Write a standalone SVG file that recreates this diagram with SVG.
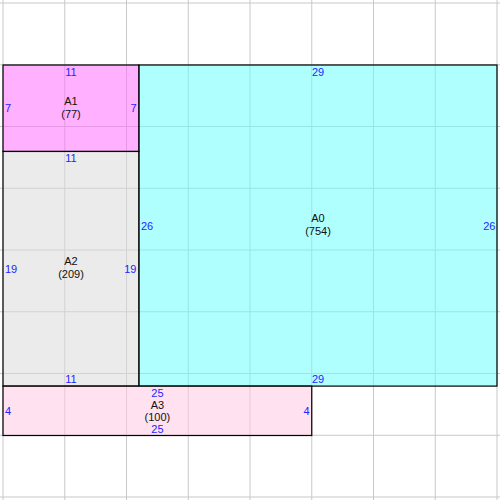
<svg xmlns="http://www.w3.org/2000/svg" width="500" height="500" viewBox="0 0 500 500">
<style>
.r{stroke:#000;stroke-width:1.2;fill-opacity:0.55}
.g line{stroke:#c8c8c8;stroke-width:1}
text{font-family:"Liberation Sans",Arial,sans-serif;font-size:11px}
.n{fill:#2424ff}
.c{text-anchor:middle}
.e{text-anchor:end}
.t{fill:#111}
</style>
<rect width="500" height="500" fill="#fff"/>
<g class="g" id="grid">
<line x1="3" y1="0" x2="3" y2="500"/>
<line x1="64.75" y1="0" x2="64.75" y2="500"/>
<line x1="126.5" y1="0" x2="126.5" y2="500"/>
<line x1="188.25" y1="0" x2="188.25" y2="500"/>
<line x1="250" y1="0" x2="250" y2="500"/>
<line x1="311.75" y1="0" x2="311.75" y2="500"/>
<line x1="373.5" y1="0" x2="373.5" y2="500"/>
<line x1="435.25" y1="0" x2="435.25" y2="500"/>
<line x1="497" y1="0" x2="497" y2="500"/>
<line x1="0" y1="3" x2="500" y2="3"/>
<line x1="0" y1="64.75" x2="500" y2="64.75"/>
<line x1="0" y1="126.5" x2="500" y2="126.5"/>
<line x1="0" y1="188.25" x2="500" y2="188.25"/>
<line x1="0" y1="250" x2="500" y2="250"/>
<line x1="0" y1="311.75" x2="500" y2="311.75"/>
<line x1="0" y1="373.5" x2="500" y2="373.5"/>
<line x1="0" y1="435.25" x2="500" y2="435.25"/>
<line x1="0" y1="497" x2="500" y2="497"/>
</g>
<g id="A0">
<rect class="r" x="138.85" y="65" width="358.15" height="321.1" fill="#6fffff"/>
</g>
<g id="A1">
<rect class="r" x="3" y="65" width="135.85" height="86.45" fill="#ff6fff"/>
</g>
<g id="A2">
<rect class="r" x="3" y="151.45" width="135.85" height="234.65" fill="#dbdbdb"/>
</g>
<g id="A3">
<rect class="r" x="3" y="386.1" width="308.75" height="49.4" fill="#ffc8e2"/>
</g>
<g id="labels-A0">
<text class="n c" x="318" y="76">29</text>
<text class="n c" x="318" y="383">29</text>
<text class="n" x="141" y="230">26</text>
<text class="n e" x="495.5" y="230">26</text>
<text class="t c" x="318" y="221.5">A0</text>
<text class="t c" x="318" y="234.5">(754)</text>
</g>
<g id="labels-A1">
<text class="n c" x="71" y="76">11</text>
<text class="n c" x="71" y="162">11</text>
<text class="n" x="5" y="112">7</text>
<text class="n e" x="136.5" y="112">7</text>
<text class="t c" x="71" y="104.5">A1</text>
<text class="t c" x="71" y="117.5">(77)</text>
</g>
<g id="labels-A2">
<text class="n c" x="71" y="383">11</text>
<text class="n" x="5" y="273">19</text>
<text class="n e" x="136.5" y="273">19</text>
<text class="t c" x="71" y="264.5">A2</text>
<text class="t c" x="71" y="277.5">(209)</text>
</g>
<g id="labels-A3">
<text class="n c" x="157.4" y="397">25</text>
<text class="n c" x="157.4" y="433">25</text>
<text class="n" x="5" y="415">4</text>
<text class="n e" x="309.5" y="415">4</text>
<text class="t c" x="157.4" y="408.5">A3</text>
<text class="t c" x="157.4" y="421">(100)</text>
</g>
</svg>
